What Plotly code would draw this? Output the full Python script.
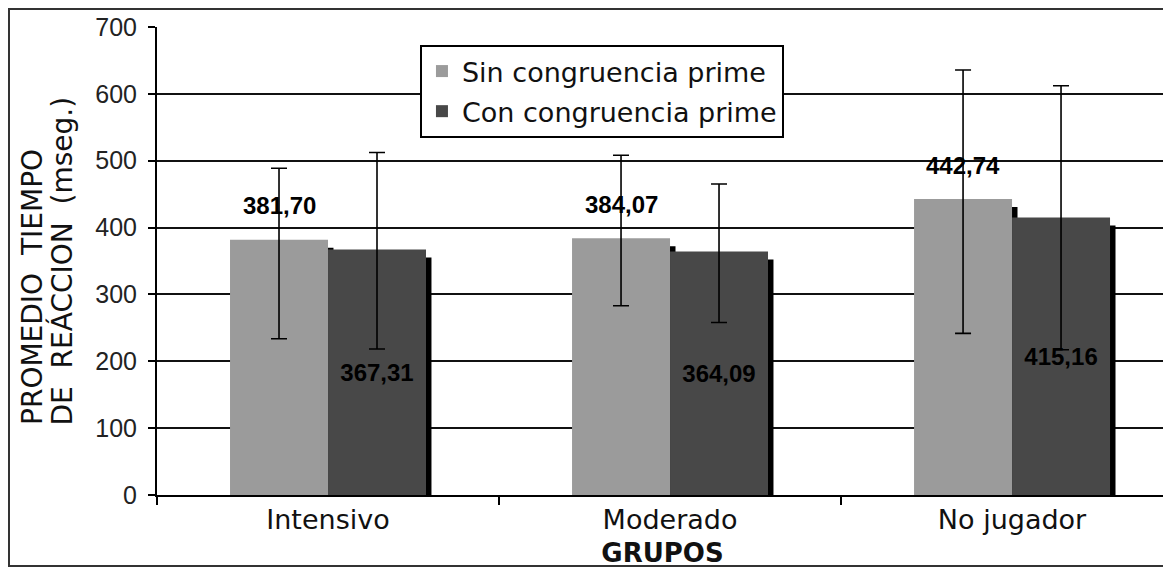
import plotly.graph_objects as go

# ---- data ----
grupos = ["Intensivo", "Moderado", "No jugador"]
sin_vals = [381.70, 384.07, 442.74]
con_vals = [367.31, 364.09, 415.16]
sin_err_plus = [107, 124, 193]
sin_err_minus = [148, 101, 201]
con_err_plus = [145, 101, 197]
con_err_minus = [149, 106, 198]
sin_labels = ["381,70", "384,07", "442,74"]
con_labels = ["367,31", "364,09", "415,16"]
y_ticks = [0, 100, 200, 300, 400, 500, 600, 700]
y_title_lines = ["PROMEDIO  TIEMPO", "DE  REÁCCION  (mseg.)"]

# ---- style ----
LIGHT = "#9b9b9b"
DARK = "#484848"
BAR_W = 0.2865
SH_DX = 0.016   # shadow offset to the right (category units)
SH_DROP = 12    # shadow top lowered (value units)
PX_PER_CAT = 342

fig = go.Figure()

# shadows (drawn first)
for off, vals in ((-BAR_W, sin_vals), (0.0, con_vals)):
    fig.add_trace(go.Bar(
        x=grupos, y=vals, base=-SH_DROP, width=BAR_W, offset=off + SH_DX,
        marker=dict(color="#000000", line=dict(width=0)),
        showlegend=False, hoverinfo="skip"))

fig.add_trace(go.Bar(
    name="Sin congruencia prime", x=grupos, y=sin_vals, width=BAR_W, offset=-BAR_W,
    marker=dict(color=LIGHT, line=dict(width=0)), legendgroup="a",
    error_y=dict(type="data", symmetric=False, array=sin_err_plus,
                 arrayminus=sin_err_minus, color="#000000", thickness=1.6, width=8)))

fig.add_trace(go.Bar(
    name="Con congruencia prime", x=grupos, y=con_vals, width=BAR_W, offset=0.0,
    marker=dict(color=DARK, line=dict(width=0)), legendgroup="b",
    text=con_labels, textposition="inside", insidetextanchor="middle",
    textangle=0, constraintext="none",
    textfont=dict(family="Liberation Sans, Arial", size=24, color="#000000", weight="bold"),
    error_y=dict(type="data", symmetric=False, array=con_err_plus,
                 arrayminus=con_err_minus, color="#000000", thickness=1.6, width=8)))

annotations = []
for g, v, t in zip(grupos, sin_vals, sin_labels):
    annotations.append(dict(
        x=g, y=v, xref="x", yref="y", text=t, showarrow=False,
        xshift=-BAR_W * PX_PER_CAT / 2, yshift=34, yanchor="middle",
        font=dict(family="Liberation Sans, Arial", size=24, color="#000000", weight="bold")))

# y axis title: two rotated lines, both starting at the same baseline height
for xp, line in zip((-0.1227, -0.093), y_title_lines):
    annotations.append(dict(
        x=xp, y=0.1453, xref="paper", yref="paper",
        text=line, showarrow=False,
        textangle=-90, xanchor="center", yanchor="bottom",
        font=dict(family="DejaVu Sans", size=28, color="#111111")))

fig.update_layout(
    width=1163, height=563,
    margin=dict(l=149, r=3, t=19, b=76),
    paper_bgcolor="white", plot_bgcolor="white",
    barmode="overlay",
    showlegend=True,
    legend=dict(x=0.2601, y=0.9615, xanchor="left", yanchor="top",
                bgcolor="white", bordercolor="#000000", borderwidth=2,
                font=dict(family="DejaVu Sans", size=27, color="#111111"),
                tracegroupgap=2, itemwidth=30),
    annotations=annotations,
    shapes=[dict(type="rect", xref="paper", yref="paper",
                 x0=-0.1464, x1=1.0, y0=-0.1517, y1=1.0385,
                 line=dict(color="#333333", width=2), layer="above")],
)

fig.update_xaxes(
    type="category", range=[-0.5, 2.456],
    showline=True, linecolor="#000000", linewidth=2,
    ticks="outside", tickson="boundaries", ticklen=8, tickwidth=2, tickcolor="#000000",
    showgrid=False,
    tickfont=dict(family="DejaVu Sans", size=27, color="#111111"),
    title=dict(text="GRUPOS", standoff=9,
               font=dict(family="DejaVu Sans", size=26, color="#111111", weight="bold")))

fig.update_yaxes(
    range=[0, 700], tickvals=y_ticks,
    showline=True, linecolor="#000000", linewidth=2,
    ticks="outside", ticklen=7, tickwidth=2, tickcolor="#000000",
    showgrid=True, gridcolor="#111111", gridwidth=2,
    zeroline=False,
    ticklabelstandoff=6,
    tickfont=dict(family="Liberation Sans, Arial", size=25, color="#222222"))

fig.write_html("out.html")
